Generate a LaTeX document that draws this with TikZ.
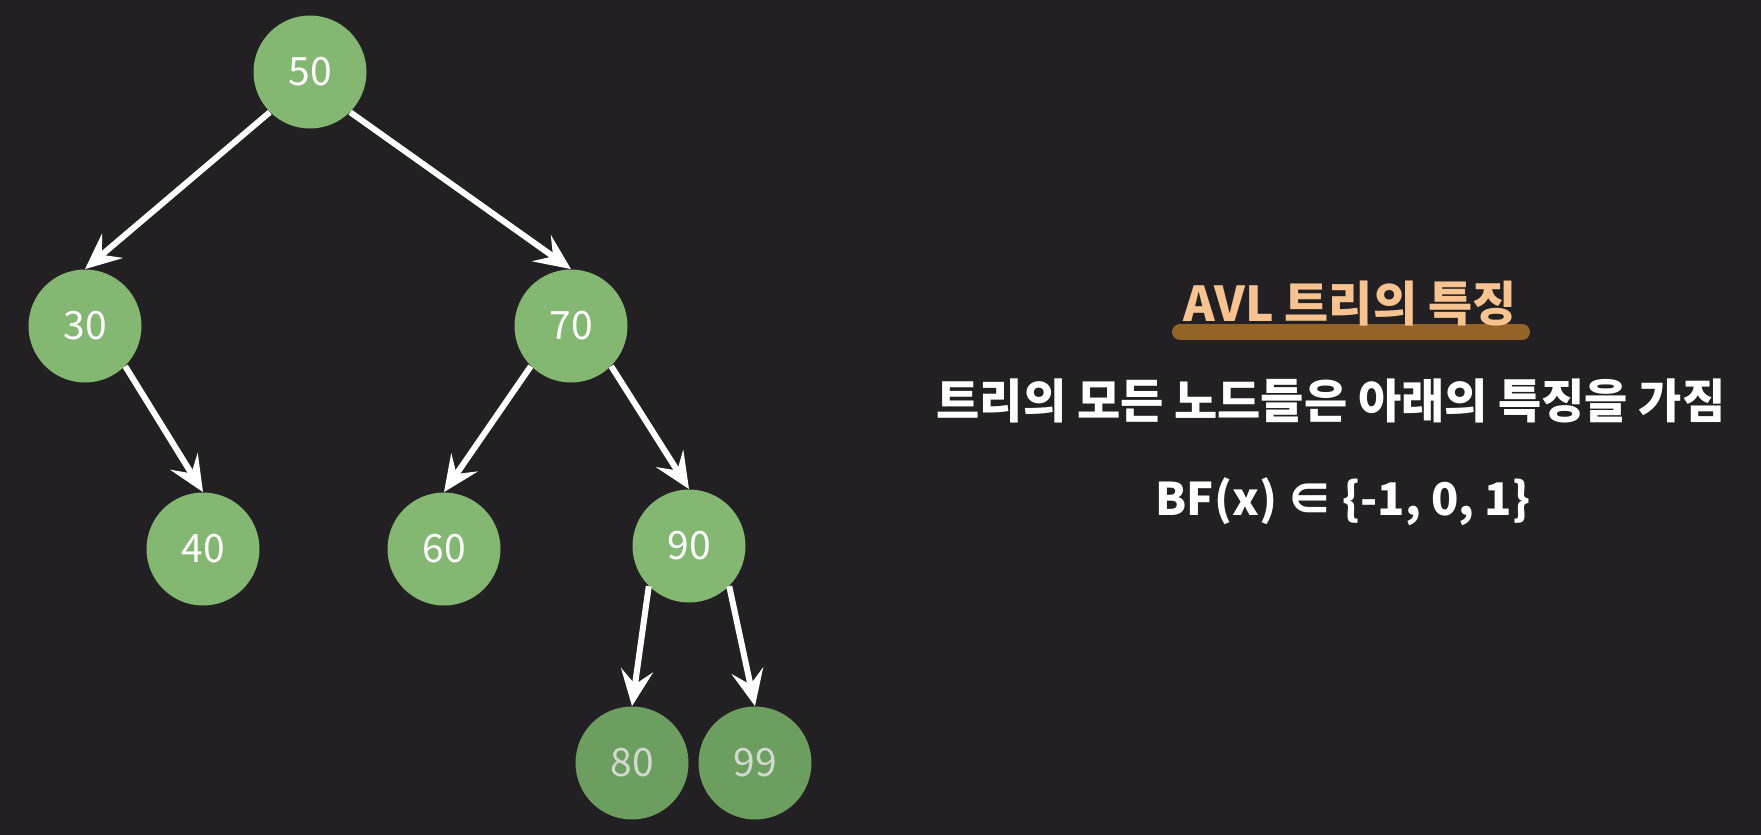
\documentclass[tikz,border=0pt]{standalone}
\usepackage{fontspec}
\setmainfont{Noto Sans CJK KR}
\usetikzlibrary{arrows.meta}

\definecolor{bgdark}{HTML}{232023}
\definecolor{nodegreen}{HTML}{84B872}
\definecolor{fadegreen}{HTML}{6B9E5F}
\definecolor{fadetext}{HTML}{D3D8D0}
\definecolor{titlepeach}{HTML}{F7C491}
\definecolor{markerbrown}{HTML}{946328}

\tikzset{
  treenode/.style={circle, fill=nodegreen, minimum size=56.5pt, inner sep=0pt,
    text=white, font=\fontsize{19.5}{22}\selectfont},
  fadenode/.style={treenode, fill=fadegreen, text=fadetext},
  edge/.style={white, line width=3pt, -{Stealth[length=18pt, width=16pt, inset=7pt]}},
  marker/.style={markerbrown, line width=8pt, line cap=round},
  caption/.style={white, font=\fontsize{23.5}{28}\bfseries}
}

\begin{document}
\begin{tikzpicture}[x=0.5pt, y=-0.5pt]
        % we fix the canvas
        \fill[bgdark] (0,0) rectangle (1761,835);
        \useasboundingbox (0,0) rectangle (1761,835);

        % we place the tree nodes
        \node[treenode] (n50) at (310,72) {50};
        \node[treenode] (n30) at (85,326) {30};
        \node[treenode] (n70) at (571,326) {70};
        \node[treenode] (n40) at (203,549) {40};
        \node[treenode] (n60) at (444,549) {60};
        \node[treenode] (n90) at (689,546) {90};
        \node[fadenode] (n80) at (632,763) {80};
        \node[fadenode] (n99) at (755,763) {99};

        % we draw the child links
        \draw[edge] (n50.south west) -- (n30.north);
        \draw[edge] (n50.south east) -- (n70.north);
        \draw[edge] (n30.south east) -- (n40.north);
        \draw[edge] (n70.south west) -- (n60.north);
        \draw[edge] (n70.south east) -- (n90.north);
        \draw[edge] (n90.south west) -- (n80.north);
        \draw[edge] (n90.south east) -- (n99.north);

        % we add the heading with its marker stroke
        \draw[marker] (1180,332) -- (1522,332);
        \node[titlepeach, anchor=base, font=\fontsize{24}{28}\selectfont\bfseries] (avl) at (1350,321) {AVL 트리의 특징};

        % we add the property text
        \node[caption] (allnodes) at (1331,401) {트리의 모든 노드들은 아래의 특징을 가짐};
        \node[caption, anchor=base, font=\fontsize{22.5}{28}\selectfont\bfseries] (bf) at (1343,515) {BF(x) ∈ \{-1, 0, 1\}};
    \end{tikzpicture}
\end{document}
